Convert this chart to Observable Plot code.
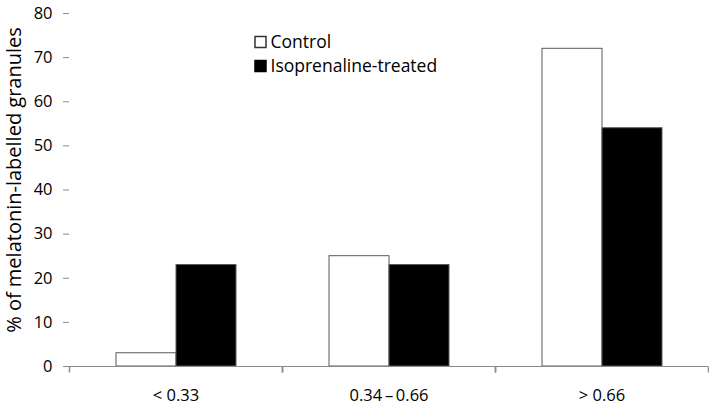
<!DOCTYPE html>
<html>
<head>
<meta charset="utf-8">
<script src="https://cdn.jsdelivr.net/npm/d3@7"></script>
<script src="https://cdn.jsdelivr.net/npm/@observablehq/plot@0.6"></script>
<style>
  html, body { margin: 0; padding: 0; background: #fff; }
  #chart svg { font-family: "Open Sans", sans-serif; }
  #chart svg g[aria-label$="tick label"],
  #chart svg g[aria-label$="tick label"] text { font-size: 16.5px !important; }
</style>
</head>
<body>
<div id="chart"></div>
<script>
const categories = ["< 0.33", "0.34\u2009\u2013\u20090.66", "> 0.66"];
const series = ["Control", "Isoprenaline-treated"];
const controlValues = [3, 25, 72];
const isoValues = [23, 23, 54];
const yTicks = [0, 10, 20, 30, 40, 50, 60, 70, 80];
const yLabel = "% of melatonin-labelled granules";

const rows = [];
categories.forEach((c, i) => {
  rows.push({cat: c, series: series[0], value: controlValues[i]});
  rows.push({cat: c, series: series[1], value: isoValues[i]});
});

const axisGray = "#8a8a8a";
const tickSymbol = {draw(ctx) { ctx.moveTo(0, 0); ctx.lineTo(0, 6); }};

const chart = Plot.plot({
  width: 709,
  height: 406,
  marginLeft: 69,
  marginRight: 1,
  marginTop: 13,
  marginBottom: 40,
  style: {fontFamily: "'Open Sans', sans-serif", fontSize: "16px", color: "#000", background: "#fff"},
  fx: {domain: categories, padding: 0},
  x: {domain: series, axis: null, paddingInner: 0, paddingOuter: 0.75},
  y: {domain: [0, 80]},
  color: {domain: series, range: ["#ffffff", "#000000"]},
  marks: [
    Plot.axisFx({anchor: "bottom", tickSize: 0, tickPadding: 23, fontSize: 16.5, label: null}),
    Plot.axisY({anchor: "left", ticks: yTicks, tickSize: 6, tickPadding: 11, fontSize: 16.5, stroke: axisGray, label: null}),
    Plot.barY(rows, {fx: "cat", x: "series", y: "value", fill: "series", stroke: "#5a5a5a", strokeWidth: 1}),
    Plot.ruleY([0], {stroke: axisGray}),
    Plot.ruleX([0], {stroke: axisGray, facet: "exclude"}),
    Plot.dot([0], {frameAnchor: "bottom-left", symbol: tickSymbol, fill: "none", stroke: axisGray}),
    Plot.dot([0], {frameAnchor: "bottom-right", symbol: tickSymbol, fill: "none", stroke: axisGray}),
    Plot.text([{fx: categories[0]}], {fx: "fx", text: () => yLabel, frameAnchor: "left", rotate: -90, dx: -55, dy: -10, fontSize: 20, textAnchor: "middle", lineAnchor: "middle"}),
    Plot.dot([{fx: categories[0], s: series[0]}], {fx: "fx", frameAnchor: "top-left", dx: 191, dy: 28.5, symbol: "square", r: 6.2, fill: "#fff", stroke: "#333"}),
    Plot.dot([{fx: categories[0], s: series[1]}], {fx: "fx", frameAnchor: "top-left", dx: 191, dy: 52.5, symbol: "square", r: 6.2, fill: "#000", stroke: "#000"}),
    Plot.text([{fx: categories[0], s: series[0]}], {fx: "fx", text: "s", frameAnchor: "top-left", dx: 201, dy: 28.5, textAnchor: "start", lineAnchor: "middle", fontSize: 17.5}),
    Plot.text([{fx: categories[0], s: series[1]}], {fx: "fx", text: "s", frameAnchor: "top-left", dx: 201, dy: 52.5, textAnchor: "start", lineAnchor: "middle", fontSize: 17.5})
  ]
});
document.getElementById("chart").append(chart);
</script>
</body>
</html>
